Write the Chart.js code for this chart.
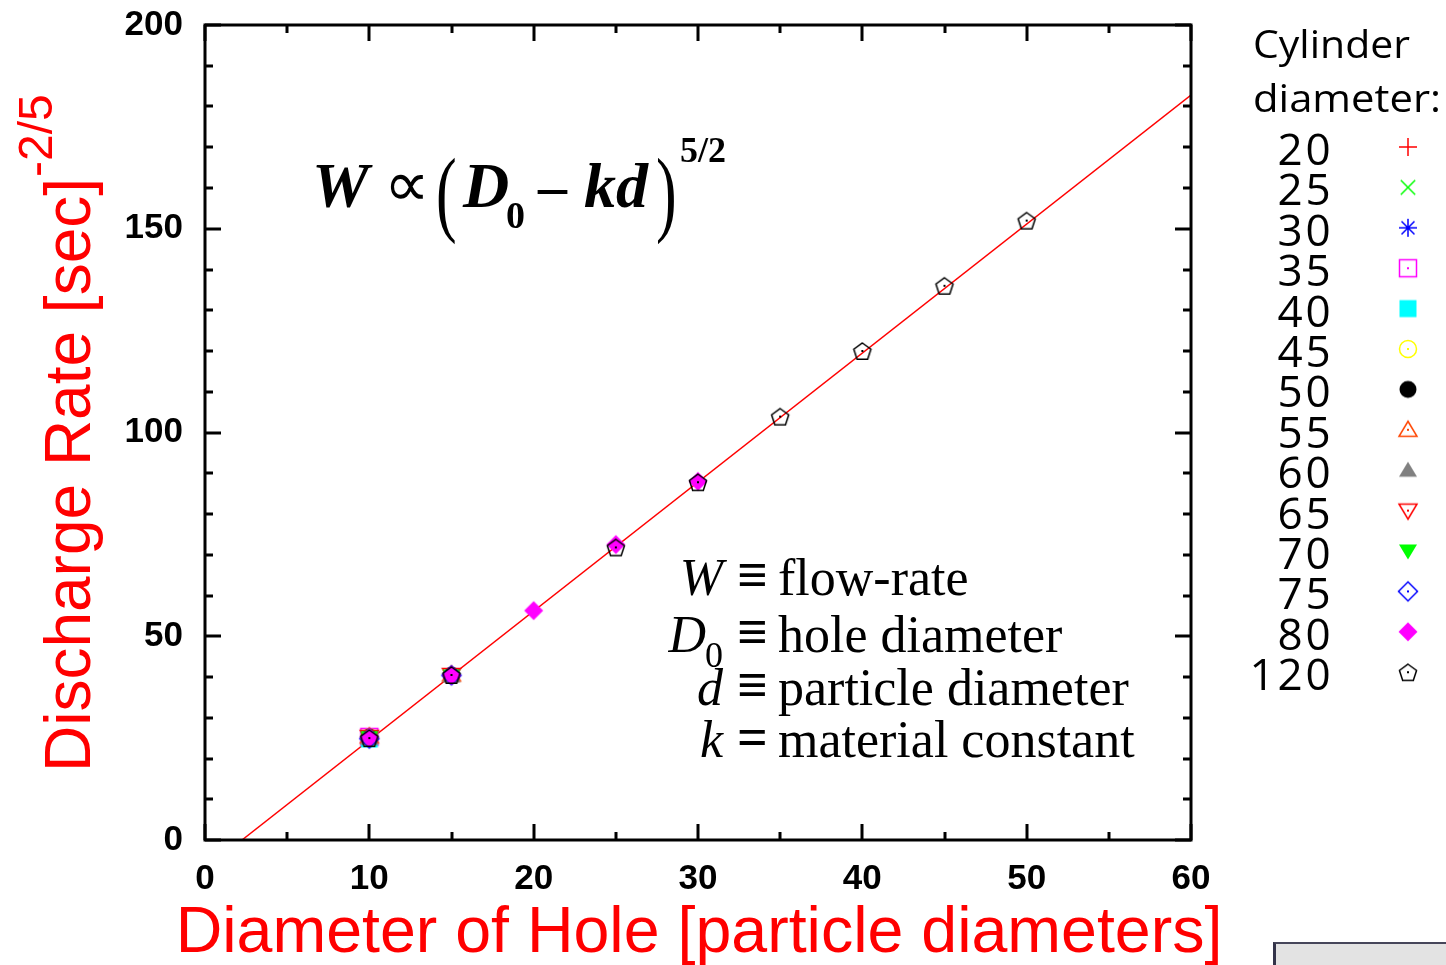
<!DOCTYPE html>
<html>
<head>
<meta charset="utf-8">
<script src="https://cdn.jsdelivr.net/npm/chart.js@4.4.1/dist/chart.umd.min.js"></script>
<style>
html,body{margin:0;padding:0;background:#fff;overflow:hidden;}
#wrap{position:relative;width:1446px;height:965px;}
#box{position:absolute;left:1273px;top:942px;width:173px;height:23px;background:#e3e3e3;border-top:2px solid #46465a;border-left:3px solid #34344a;box-sizing:border-box;}
</style>
</head>
<body>
<div id="wrap">
<canvas id="c" width="1446" height="965"></canvas>
<div id="box"></div>
</div>
<script>
// ---- data ----
const holeDiameters = [10, 15, 20, 25, 30, 35, 40, 45, 50];
const cylinderLabels = ['20','25','30','35','40','45','50','55','60','65','70','75','80','120'];
const rate20  = [25.2, null, null, null, null, null, null, null, null];
const rate25  = [25.0, null, null, null, null, null, null, null, null];
const rate30  = [24.9, null, null, null, null, null, null, null, null];
const rate35  = [25.3, null, null, null, null, null, null, null, null];
const rate40  = [24.8, null, null, null, null, null, null, null, null];
const rate45  = [25.1, null, null, null, null, null, null, null, null];
const rate50  = [25.2, 40.4, null, null, null, null, null, null, null];
const rate55  = [25.4, 40.6, null, null, null, null, null, null, null];
const rate60  = [25.0, 40.3, null, null, null, null, null, null, null];
const rate65  = [25.3, 40.5, null, null, null, null, null, null, null];
const rate70  = [25.1, 40.2, null, null, null, null, null, null, null];
const rate75  = [24.9, 40.4, null, null, null, null, null, null, null];
const rate80  = [25.1, 40.4, 56.3, 72.5, 88.0, null, null, null, null];
const rate120 = [25.0, 40.5, null, 71.8, 87.8, 103.9, 120.0, 136.0, 152.0];
const fitX = [2.25, 60];
const fitY = [0, 182.8];
const xTickLabels = ['0','10','20','30','40','50','60'];
const yTickLabels = ['0','50','100','150','200'];

const seriesValues = [rate20, rate25, rate30, rate35, rate40, rate45, rate50, rate55, rate60, rate65, rate70, rate75, rate80, rate120];

// ---- marker images ----
function marker(shape, color, filled, dot) {
  const s = 24, c = document.createElement('canvas');
  c.width = s; c.height = s;
  const g = c.getContext('2d');
  g.strokeStyle = color; g.fillStyle = color; g.lineWidth = 1.5;
  const m = s / 2, r = 9;
  g.beginPath();
  if (shape === 'plus') { g.moveTo(m - r, m); g.lineTo(m + r, m); g.moveTo(m, m - r); g.lineTo(m, m + r); g.stroke(); }
  else if (shape === 'x') { const q = r * 0.8; g.moveTo(m - q, m - q); g.lineTo(m + q, m + q); g.moveTo(m - q, m + q); g.lineTo(m + q, m - q); g.stroke(); }
  else if (shape === 'star') { const q = r * 0.72; g.moveTo(m - r, m); g.lineTo(m + r, m); g.moveTo(m, m - r); g.lineTo(m, m + r); g.moveTo(m - q, m - q); g.lineTo(m + q, m + q); g.moveTo(m - q, m + q); g.lineTo(m + q, m - q); g.stroke(); }
  else {
    if (shape === 'square') { g.rect(m - 8.5, m - 8.5, 17, 17); }
    else if (shape === 'circle') { g.arc(m, m, 8.5, 0, Math.PI * 2); }
    else if (shape === 'tri') { g.moveTo(m, m - 8.5); g.lineTo(m + 9, m + 6.5); g.lineTo(m - 9, m + 6.5); g.closePath(); }
    else if (shape === 'itri') { g.moveTo(m, m + 8.5); g.lineTo(m + 9, m - 6.5); g.lineTo(m - 9, m - 6.5); g.closePath(); }
    else if (shape === 'diamond') { g.moveTo(m, m - 9.5); g.lineTo(m + 9.5, m); g.lineTo(m, m + 9.5); g.lineTo(m - 9.5, m); g.closePath(); }
    else if (shape === 'pent') { for (let i = 0; i < 5; i++) { const a = -Math.PI / 2 + i * 2 * Math.PI / 5; const px = m + 9 * Math.cos(a), py = m + 1 + 9 * Math.sin(a); if (i === 0) g.moveTo(px, py); else g.lineTo(px, py); } g.closePath(); }
    if (filled) g.fill(); else g.stroke();
    if (dot) { g.fillRect(m - 1, m - 1, 2, 2); }
  }
  return c;
}
const markerSpecs = [
  ['plus', '#ff0000', false, false],
  ['x', '#00ff00', false, false],
  ['star', '#0000ff', false, false],
  ['square', '#ff00ff', false, true],
  ['square', '#00ffff', true, false],
  ['circle', '#ffff00', false, true],
  ['circle', '#000000', true, false],
  ['tri', '#ff4500', false, true],
  ['tri', '#808080', true, false],
  ['itri', '#ff0000', false, true],
  ['itri', '#00ff00', true, false],
  ['diamond', '#0000ff', false, true],
  ['diamond', '#ff00ff', true, false],
  ['pent', '#000000', false, true]
];
const markerImgs = markerSpecs.map(s => marker(s[0], s[1], s[2], s[3]));

const datasets = seriesValues.map((vals, i) => ({
  type: 'scatter',
  label: cylinderLabels[i],
  data: holeDiameters.map((x, j) => vals[j] == null ? null : { x: x, y: vals[j] }).filter(p => p),
  pointStyle: markerImgs[i],
  pointRadius: 10,
  showLine: false,
  order: seriesValues.length - i
}));
datasets.push({
  type: 'line',
  label: 'fit',
  data: fitX.map((x, i) => ({ x: x, y: fitY[i] })),
  borderColor: '#ff0000',
  borderWidth: 1.5,
  pointRadius: 0,
  order: 100
});

const frameTicks = {
  id: 'frameTicks',
  afterDatasetsDraw(chart) {
    const { ctx, chartArea: { left, right, top, bottom }, scales: { x, y } } = chart;
    ctx.save();
    ctx.strokeStyle = '#000'; ctx.lineWidth = 3;
    ctx.beginPath();
    for (let v = 0; v <= 60; v += 5) {
      const len = v % 10 === 0 ? 16 : 8, px = Math.round(x.getPixelForValue(v));
      ctx.moveTo(px, bottom); ctx.lineTo(px, bottom - len);
      ctx.moveTo(px, top); ctx.lineTo(px, top + len);
    }
    for (let v = 0; v <= 200; v += 10) {
      const len = v % 50 === 0 ? 16 : 8, py = Math.round(y.getPixelForValue(v));
      ctx.moveTo(left, py); ctx.lineTo(left + len, py);
      ctx.moveTo(right, py); ctx.lineTo(right - len, py);
    }
    ctx.stroke();
    ctx.strokeRect(left, top, right - left, bottom - top);
    ctx.restore();
  }
};

function fitText(ctx, txt, x, y, targetW) {
  const w = ctx.measureText(txt).width;
  ctx.save(); ctx.translate(x, y); ctx.scale(targetW / w, 1); ctx.fillText(txt, 0, 0); ctx.restore();
}
function tallText(ctx, txt, x, y, sy) {
  ctx.save(); ctx.translate(x, y); ctx.scale(1, sy); ctx.fillText(txt, 0, 0); ctx.restore();
}

const annotations = {
  id: 'annotations',
  afterDraw(chart) {
    const ctx = chart.ctx;
    ctx.save();
    // axis titles
    ctx.fillStyle = '#ff0000';
    ctx.font = '64.5px "Liberation Sans", Arial, sans-serif';
    ctx.textAlign = 'center'; ctx.textBaseline = 'alphabetic';
    ctx.fillText('Diameter of Hole [particle diameters]', 699, 952);
    ctx.save();
    ctx.translate(90, 772); ctx.rotate(-Math.PI / 2);
    ctx.textAlign = 'left';
    const main = 'Discharge Rate [sec]';
    ctx.font = '64px "Liberation Sans", Arial, sans-serif';
    ctx.fillText(main, 0, 0);
    const mw = ctx.measureText(main).width;
    ctx.font = '48px "Liberation Sans", Arial, sans-serif';
    ctx.fillText('-2/5', mw + 1, -38);
    ctx.restore();

    // formula
    ctx.fillStyle = '#000'; ctx.textAlign = 'left';
    const bi = 'bold italic 64px "Liberation Serif", "Times New Roman", serif';
    ctx.font = bi; ctx.fillText('W', 312, 207);
    ctx.font = '64px "Liberation Serif", serif'; ctx.fillText('\u221D', 384, 206);
    ctx.font = '62px "Liberation Serif", serif'; tallText(ctx, '(', 436, 224, 1.55);
    ctx.font = bi; ctx.fillText('D', 463, 207);
    ctx.font = 'bold 38px "Liberation Serif", serif'; ctx.fillText('0', 506, 228);
    ctx.font = 'bold 58px "Liberation Serif", serif'; ctx.fillText('\u2013', 538, 205);
    ctx.font = bi; ctx.fillText('kd', 584, 207);
    ctx.font = '62px "Liberation Serif", serif'; tallText(ctx, ')', 656, 224, 1.55);
    ctx.font = 'bold 36px "Liberation Serif", serif'; ctx.fillText('5/2', 680, 162);

    // definitions
    const defs = [['W', '\u2261', 'flow-rate', 595], ['D', '\u2261', 'hole diameter', 652], ['d', '\u2261', 'particle diameter', 705], ['k', '=', 'material constant', 757]];
    defs.forEach(([sym, op, txt, by]) => {
      ctx.font = 'italic 52px "Liberation Serif", serif';
      ctx.textAlign = 'right';
      ctx.fillText(sym, sym === 'D' ? 706 : 723, by);
      if (sym === 'D') { ctx.font = '36px "Liberation Serif", serif'; ctx.textAlign = 'left'; ctx.fillText('0', 705, by + 15); }
      ctx.textAlign = 'left';
      ctx.font = 'bold 54px "Liberation Serif", serif';
      ctx.fillText(op, 737, by - 2);
      ctx.font = '52px "Liberation Serif", serif';
      ctx.fillText(txt, 778, by);
    });

    // legend
    ctx.textAlign = 'left';
    ctx.font = '38px "Open Sans", "Noto Sans", sans-serif';
    fitText(ctx, 'Cylinder', 1253, 58, 157);
    fitText(ctx, 'diameter:', 1253, 112, 188);
    ctx.font = '44px "Open Sans", "DejaVu Sans", sans-serif';
    ctx.textAlign = 'center';
    cylinderLabels.forEach((lab, i) => {
      const by = 165 + i * 40.4;
      const chars = lab.split('');
      chars.forEach((ch, k) => {
        const cx = 1318 - (chars.length - 1 - k) * 28;
        ctx.fillText(ch, cx, by);
      });
      const im = markerImgs[i];
      ctx.drawImage(im, 1408 - im.width / 2, by - 18 - im.height / 2);
    });
    ctx.restore();
  }
};

const zeroPad = (s) => { s.paddingTop = 0; s.paddingBottom = 0; s.paddingLeft = 0; s.paddingRight = 0; };

new Chart(document.getElementById('c'), {
  data: { datasets: datasets },
  options: {
    responsive: false,
    animation: false,
    devicePixelRatio: 1,
    layout: { padding: { left: 0, right: 255, top: 25, bottom: 0 } },
    plugins: { legend: { display: false }, tooltip: { enabled: false } },
    scales: {
      x: {
        type: 'linear', min: 0, max: 60,
        grid: { display: false, drawTicks: false },
        border: { display: false },
        ticks: { stepSize: 10, color: '#000', padding: 18, font: { family: '"Liberation Sans", Arial, sans-serif', size: 35, weight: 'bold' },
                 callback: (v) => xTickLabels[Math.round(v / 10)] },
        afterFit: (s) => { s.height = 125; zeroPad(s); }
      },
      y: {
        type: 'linear', min: 0, max: 200,
        grid: { display: false, drawTicks: false },
        border: { display: false },
        ticks: { stepSize: 50, color: '#000', padding: 22, font: { family: '"Liberation Sans", Arial, sans-serif', size: 35, weight: 'bold' },
                 callback: (v) => yTickLabels[Math.round(v / 50)] },
        afterFit: (s) => { s.width = 205; zeroPad(s); }
      }
    }
  },
  plugins: [frameTicks, annotations]
});
</script>
</body>
</html>
